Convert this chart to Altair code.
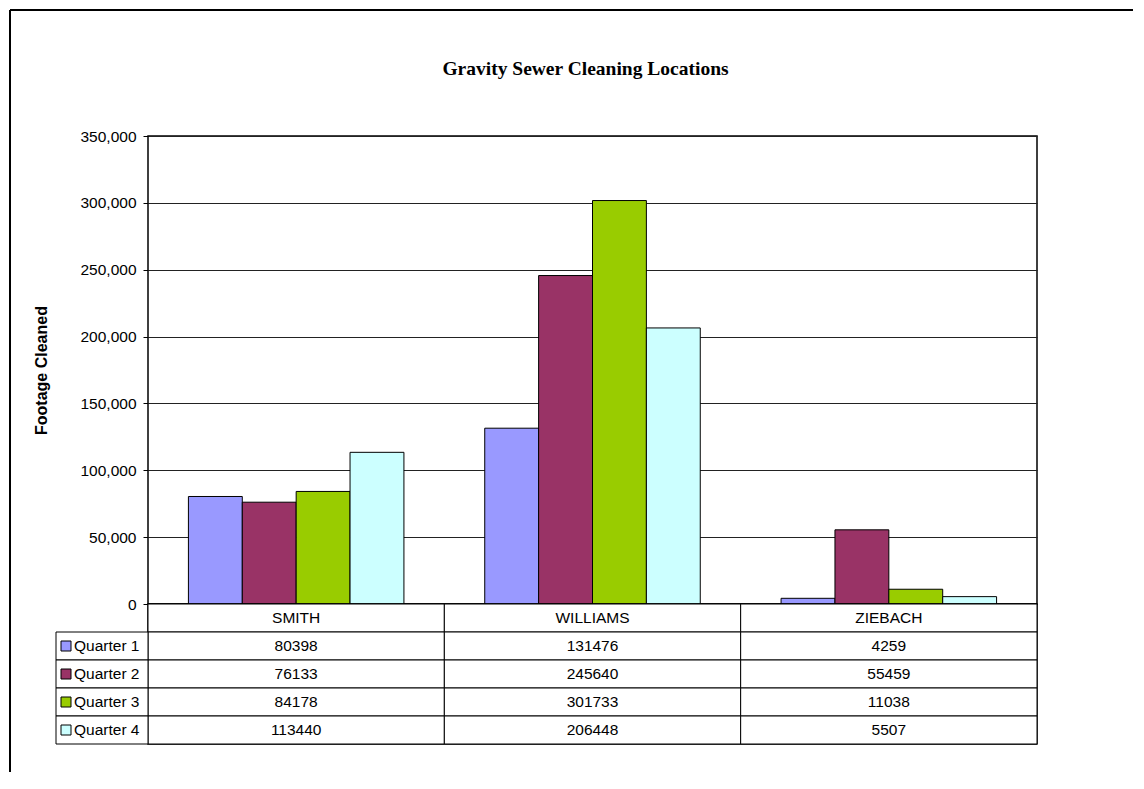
import altair as alt
import pandas as pd

# ---- data ----
locations = ["SMITH", "WILLIAMS", "ZIEBACH"]
quarters = ["Quarter 1", "Quarter 2", "Quarter 3", "Quarter 4"]
q1 = [80398, 131476, 4259]
q2 = [76133, 245640, 55459]
q3 = [84178, 301733, 11038]
q4 = [113440, 206448, 5507]
colors = ["#9999FF", "#993366", "#99CC00", "#CCFFFF"]
y_ticks = [0, 50000, 100000, 150000, 200000, 250000, 300000, 350000]
chart_title = "Gravity Sewer Cleaning Locations"
y_title = "Footage Cleaned"

series = [q1, q2, q3, q4]
records = []
for qi, q in enumerate(quarters):
    for li, loc in enumerate(locations):
        records.append({"Location": loc, "Quarter": q, "Value": series[qi][li]})
df = pd.DataFrame(records)

cells = [{"Location": loc, "Row": "header", "Text": loc} for loc in locations]
for r in records:
    cells.append({"Location": r["Location"], "Row": r["Quarter"], "Text": str(r["Value"])})
cells = pd.DataFrame(cells)
table_rows = ["header"] + quarters
legend_df = pd.DataFrame({"Row": quarters})
one = pd.DataFrame({"a": [0]})

W, H, TH = 889, 468, 140
FONT = "Liberation Sans, Arial, sans-serif"
FS = 15.5

x_scale = alt.Scale(domain=locations, paddingInner=0, paddingOuter=0)
color_scale = alt.Scale(domain=quarters, range=colors)

bars = alt.Chart(df).mark_bar(stroke="#000", strokeWidth=1).encode(
    x=alt.X("Location:N", sort=locations, scale=x_scale, axis=None),
    xOffset=alt.XOffset("Quarter:N", sort=quarters,
                        scale=alt.Scale(domain=quarters, paddingInner=0, paddingOuter=0.75)),
    y=alt.Y("Value:Q", scale=alt.Scale(domain=[0, 350000], nice=False),
            axis=alt.Axis(values=y_ticks, format=",.0f", title=y_title)),
    color=alt.Color("Quarter:N", scale=color_scale, legend=None),
).properties(
    width=W, height=H,
    title=alt.TitleParams(chart_title, font="Liberation Serif, Times New Roman, serif",
                          fontSize=19.5, fontWeight="bold", anchor="middle",
                          offset=50, dx=-7, color="#000"),
)

yrow = alt.Y("Row:N", sort=table_rows,
             scale=alt.Scale(domain=table_rows, paddingInner=0, paddingOuter=0), axis=None)
xt = alt.X("Location:N", sort=locations, scale=x_scale, axis=None)

cell_rect = alt.Chart(cells).mark_rect(fill="white", stroke="#000", strokeWidth=1).encode(x=xt, y=yrow)
cell_text = alt.Chart(cells).mark_text(font=FONT, fontSize=FS, color="#000").encode(
    x=xt, y=yrow, text="Text:N")

leg_rect = alt.Chart(legend_df).mark_rect(fill="white", stroke="#000", strokeWidth=1).encode(
    x=alt.value(-92), x2=alt.value(0), y=yrow)
leg_sq = alt.Chart(legend_df).mark_square(size=100, stroke="#000", strokeWidth=1, opacity=1).encode(
    x=alt.value(-82), y=yrow,
    color=alt.Color("Row:N", scale=color_scale, legend=None))
leg_txt = alt.Chart(legend_df).mark_text(font=FONT, fontSize=FS, color="#000", align="left").encode(
    x=alt.value(-74), y=yrow, text="Row:N")

border_top = alt.Chart(one).mark_rule(color="#000", strokeWidth=2).encode(
    x=alt.value(-138), x2=alt.value(985), y=alt.value(-594))
border_left = alt.Chart(one).mark_rule(color="#000", strokeWidth=2).encode(
    x=alt.value(-138), y=alt.value(-594), y2=alt.value(168))

table = alt.layer(cell_rect, cell_text, leg_rect, leg_sq, leg_txt, border_top, border_left).properties(
    width=W, height=TH)

chart = alt.vconcat(bars, table, spacing=0, bounds="flush").properties(
    padding=0
).configure_view(
    stroke="#000", strokeWidth=1.5
).configure_axis(
    labelFont=FONT, labelFontSize=FS, labelColor="#000",
    titleFont=FONT, titleFontSize=16, titleFontWeight="bold", titleColor="#000",
    tickColor="#000", tickSize=5, labelPadding=7, titlePadding=30,
    domain=False, grid=True, gridColor="#222", gridWidth=1,
)

chart.save("out.html", embed_options={"renderer": "svg", "actions": False})
